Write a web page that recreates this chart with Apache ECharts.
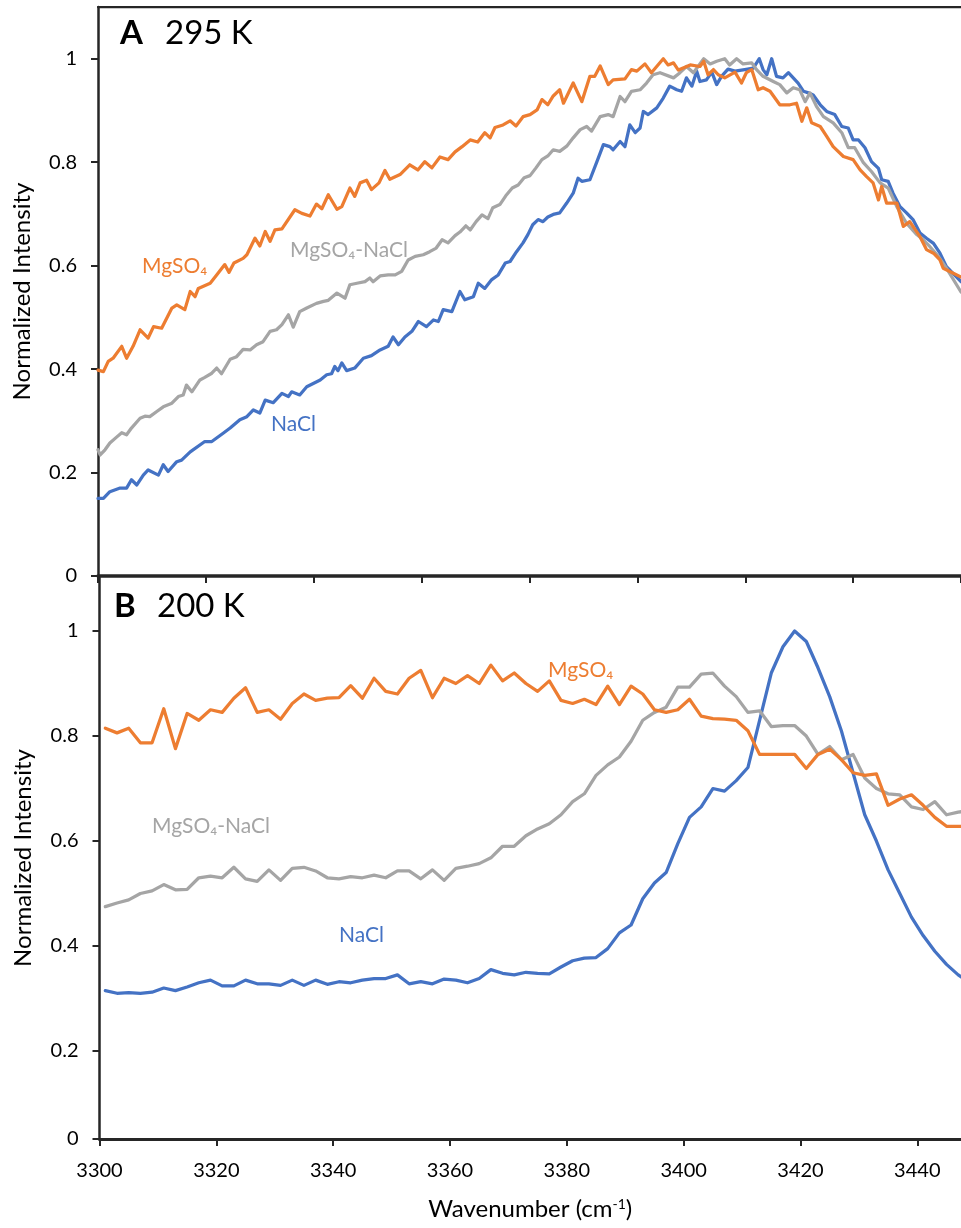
<!DOCTYPE html>
<html>
<head>
<meta charset="utf-8">
<script src="https://cdn.jsdelivr.net/npm/echarts@6/dist/echarts.min.js"></script>
<style>
  html, body { margin: 0; padding: 0; background: #fff; }
  #chart { width: 961px; height: 1228px; }
</style>
</head>
<body>
<div id="chart"></div>
<script>
// Panel A (295 K): wavenumber / normalized intensity pairs for each solution
const topMgSO4X = [3300, 3301.0, 3301.9, 3302.8, 3304.4, 3305.3, 3306.5, 3307.8, 3309.3, 3310.3,
  3311.8, 3313.7, 3314.6, 3316.1, 3317.1, 3318.0, 3318.6, 3320.8, 3322.0, 3323.5,
  3324.3, 3325.2, 3326.9, 3327.6, 3329.1, 3330.0, 3331.0, 3331.9, 3332.8, 3334.1,
  3336.5, 3337.8, 3339.3, 3340.5, 3341.5, 3342.7, 3344.3, 3345.2, 3346.7, 3347.6,
  3348.6, 3349.8, 3350.7, 3352.1, 3353.2, 3354.1,
  3356.0, 3357.8, 3359.3, 3360.6, 3361.9, 3363.4, 3364.9, 3366.2, 3367.5, 3369.0,
  3370.4, 3371.7, 3372.7, 3373.6, 3375.1, 3376.4, 3377.5, 3378.8, 3380.1, 3381.4,
  3382.3, 3383.4, 3384.4,
  3385.6, 3386.3, 3388.1, 3389.7, 3391.2, 3392.1, 3393.1, 3394.6,
  3395.5, 3397.7, 3398.9, 3399.9, 3401.4, 3402.6, 3404.8, 3405.7, 3406.7, 3407.6,
  3409.8, 3411.6, 3412.3, 3413.1, 3414.1, 3415.0, 3416.2, 3418.1, 3419.3, 3420.2,
  3421.2, 3422.4, 3423.3, 3424.6, 3426.4, 3428.3, 3429.5, 3430.5, 3431.4, 3432.3,
  3433.9, 3435.1, 3436.3, 3438.2, 3440.0, 3441.3, 3442.5, 3443.7, 3444.7, 3445.3,
  3446.2, 3448.1, 3449.3, 3450.5, 3452.4, 3453.6, 3454.9, 3456.1, 3456.7, 3460];
const topMgSO4Y = [0.398, 0.395, 0.415, 0.421, 0.444, 0.421, 0.444, 0.476, 0.460, 0.482,
  0.479, 0.518, 0.524, 0.515, 0.550, 0.540, 0.556, 0.566, 0.582, 0.602,
  0.587, 0.605, 0.614, 0.621, 0.653, 0.638, 0.666, 0.647, 0.669, 0.671,
  0.708, 0.701, 0.696, 0.719, 0.710, 0.737, 0.709, 0.714, 0.750, 0.734,
  0.760, 0.765, 0.747, 0.760, 0.784, 0.767,
  0.776, 0.795, 0.785, 0.801, 0.789, 0.810, 0.805, 0.820, 0.830, 0.843,
  0.839, 0.857, 0.847, 0.867, 0.872, 0.880, 0.870, 0.888, 0.892, 0.901,
  0.921, 0.911, 0.928,
  0.940, 0.914, 0.953, 0.917, 0.966, 0.966, 0.986, 0.950,
  0.959, 0.961, 0.979, 0.976, 0.990, 0.973, 1.000, 0.988, 0.992, 0.978,
  0.988, 0.985, 0.995, 0.969, 0.979, 0.969, 0.963, 0.974, 0.953, 0.973,
  0.979, 0.940, 0.944, 0.937, 0.911, 0.911, 0.914, 0.879, 0.905, 0.876,
  0.869, 0.850, 0.830, 0.811, 0.805, 0.785, 0.772, 0.760, 0.727, 0.753,
  0.721, 0.721, 0.676, 0.685, 0.656, 0.631, 0.624, 0.611, 0.595, 0.578];

const topMixX = [3300, 3300.4, 3301.3, 3302.2, 3303.5, 3304.4, 3305.3, 3306.2, 3307.8, 3308.7,
  3309.6, 3310.9, 3312.1, 3313.7, 3314.9, 3315.8, 3316.4, 3317.4, 3318.9, 3319.8,
  3321.1, 3322.0, 3322.9, 3324.5, 3325.7, 3326.9, 3328.2, 3329.4, 3330.6, 3331.9,
  3333.1, 3334.1, 3335.3, 3336.2, 3337.4, 3338.7, 3340.5, 3341.8, 3342.7, 3344.3,
  3345.8, 3346.7, 3348.0, 3349.5, 3350.4, 3351.0, 3352.3, 3353.8, 3355.1, 3356.3,
  3357.5, 3358.8, 3360.3, 3361.5,
  3362.7, 3363.8, 3364.9, 3366.2, 3367.1, 3368.2, 3369.0, 3370.1, 3371.2, 3372.3,
  3373.2, 3374.5, 3375.6, 3376.8, 3377.9, 3379.0, 3380.1, 3381.2, 3382.3, 3383.4,
  3384.4,
  3385.6, 3386.9, 3388.1, 3389.4,
  3390.6, 3391.5, 3393.1, 3394.6, 3395.5, 3396.8, 3397.7, 3398.9, 3400.5, 3401.7,
  3402.9, 3404.2, 3406.7, 3407.9, 3409.1, 3410.4, 3412.3, 3413.5, 3414.7, 3416.2,
  3417.1, 3418.4, 3419.6, 3421.2, 3422.1, 3423.3, 3425.2, 3426.4, 3427.7, 3428.9,
  3430.1, 3431.1, 3432.0, 3433.2, 3434.5, 3436.3, 3437.9, 3439.1, 3440.3, 3441.9,
  3443.4, 3445.0, 3446.5, 3448.1, 3449.9, 3451.8, 3453.0, 3454.2, 3455.8, 3457.3,
  3460];
const topMixY = [0.244, 0.234, 0.244, 0.257, 0.269, 0.277, 0.273, 0.286, 0.305, 0.309,
  0.308, 0.318, 0.327, 0.334, 0.347, 0.350, 0.369, 0.356, 0.379, 0.384,
  0.392, 0.402, 0.391, 0.419, 0.424, 0.438, 0.437, 0.447, 0.453, 0.473,
  0.476, 0.486, 0.505, 0.481, 0.511, 0.518, 0.527, 0.531, 0.533, 0.547,
  0.537, 0.563, 0.566, 0.569, 0.576, 0.569, 0.580, 0.582, 0.582, 0.589,
  0.611, 0.618, 0.621, 0.627,
  0.634, 0.650, 0.644, 0.658, 0.665, 0.677, 0.669, 0.685, 0.698, 0.691,
  0.712, 0.718, 0.735, 0.750, 0.756, 0.770, 0.774, 0.789, 0.805, 0.812,
  0.824,
  0.821, 0.831, 0.847, 0.863,
  0.869, 0.860, 0.888, 0.892, 0.888, 0.927, 0.917, 0.937, 0.940, 0.953,
  0.969, 0.973, 0.963, 0.973, 0.985, 0.973, 1.000, 0.990, 0.995, 1.000,
  0.988, 1.000, 0.990, 0.992, 0.979, 0.966, 0.956, 0.950, 0.934, 0.944,
  0.940, 0.917, 0.934, 0.908, 0.888, 0.876, 0.857, 0.828, 0.828, 0.799,
  0.782, 0.760, 0.750, 0.714, 0.682, 0.660, 0.650, 0.637, 0.618, 0.595,
  0.549];

const topNaClX = [3300, 3301.0, 3302.2, 3304.1, 3305.3, 3306.2, 3307.2, 3308.4, 3309.3, 3311.2,
  3312.1, 3313.0, 3314.6, 3315.5, 3317.1, 3319.8, 3321.1, 3323.2, 3324.5, 3326.3,
  3327.6, 3328.8, 3330.0, 3331.0, 3332.5, 3334.1, 3335.3, 3335.9, 3337.4, 3338.7,
  3341.2, 3342.4, 3343.3, 3343.9, 3344.5, 3345.2, 3346.1, 3347.6, 3349.2, 3350.7,
  3352.3, 3353.8, 3354.7, 3355.7, 3356.9, 3358.2, 3359.4, 3360.9, 3362.2, 3363.1,
  3364.0, 3365.6, 3367.1, 3368.0, 3369.6, 3370.5, 3371.7, 3373.0, 3374.2, 3375.5,
  3376.4, 3377.6,
  3378.8, 3379.7, 3380.6, 3381.6, 3382.5, 3383.4, 3384.4,
  3385.6, 3386.9, 3388.1, 3389.0,
  3389.7, 3391.2, 3392.5, 3393.7, 3394.9, 3395.5, 3396.8, 3397.7, 3398.6, 3399.6,
  3400.5, 3401.1, 3402.0, 3403.6, 3404.8, 3406.0, 3407.3, 3408.2, 3409.1, 3410.1,
  3411.0, 3411.6, 3412.8, 3413.8, 3414.7, 3415.6, 3416.8, 3418.1, 3419.9, 3421.5,
  3422.6, 3423.3, 3424.0, 3424.9, 3425.8, 3427.0, 3428.0, 3428.9, 3429.8, 3430.8,
  3431.7, 3432.6, 3433.9, 3435.1, 3436.6, 3437.9, 3439.1, 3440.0, 3441.0, 3442.2,
  3443.4, 3444.7, 3445.3, 3446.5, 3447.4, 3448.7, 3449.9, 3451.1, 3452.4, 3453.6,
  3454.9, 3456.1, 3457.3, 3460];
const topNaClY = [0.150, 0.150, 0.163, 0.170, 0.170, 0.186, 0.176, 0.195, 0.205, 0.195,
  0.215, 0.202, 0.221, 0.224, 0.240, 0.260, 0.260, 0.276, 0.286, 0.302,
  0.308, 0.321, 0.315, 0.340, 0.335, 0.353, 0.347, 0.356, 0.350, 0.366,
  0.379, 0.389, 0.391, 0.405, 0.397, 0.412, 0.397, 0.402, 0.421, 0.426,
  0.437, 0.444, 0.462, 0.447, 0.462, 0.473, 0.492, 0.482, 0.495, 0.492,
  0.515, 0.511, 0.550, 0.534, 0.540, 0.566, 0.556, 0.573, 0.582, 0.605,
  0.608, 0.627,
  0.644, 0.660, 0.679, 0.689, 0.685, 0.694, 0.699,
  0.702, 0.721, 0.740, 0.769,
  0.763, 0.766, 0.801, 0.834, 0.830, 0.824, 0.840, 0.830, 0.872, 0.857,
  0.866, 0.898, 0.892, 0.905, 0.924, 0.947, 0.940, 0.937, 0.963, 0.947,
  0.976, 0.956, 0.959, 0.974, 0.950, 0.966, 0.980, 0.976, 0.979, 0.982,
  1.000, 0.979, 0.969, 1.000, 0.966, 0.963, 0.973, 0.963, 0.953, 0.937,
  0.934, 0.930, 0.911, 0.898, 0.892, 0.869, 0.866, 0.843, 0.843, 0.828,
  0.801, 0.788, 0.766, 0.763, 0.740, 0.714, 0.702, 0.689, 0.663, 0.653,
  0.643, 0.624, 0.598, 0.569];

// Panel B (200 K): shared wavenumber grid
const bottomWavenumbers = [];
for (let w = 3301; w <= 3449; w += 2) bottomWavenumbers.push(w);

const bottomMgSO4 = [0.815, 0.806, 0.815, 0.787, 0.787, 0.852, 0.776, 0.843, 0.830, 0.850,
  0.845, 0.872, 0.892, 0.845, 0.850, 0.832, 0.862, 0.880, 0.868, 0.872,
  0.873, 0.896, 0.872, 0.910, 0.885, 0.880, 0.910, 0.925, 0.873, 0.910,
  0.900, 0.915, 0.900, 0.935, 0.905, 0.920, 0.900, 0.885, 0.905, 0.868,
  0.862, 0.870, 0.860, 0.895, 0.860, 0.895, 0.880, 0.850, 0.845, 0.850,
  0.870, 0.838, 0.833, 0.832, 0.830, 0.810, 0.765, 0.765, 0.765, 0.765,
  0.738, 0.765, 0.775, 0.755, 0.730, 0.725, 0.728, 0.668, 0.680, 0.688,
  0.668, 0.645, 0.628, 0.628, 0.628];
const bottomMix = [0.475, 0.482, 0.488, 0.500, 0.505, 0.517, 0.507, 0.508, 0.530, 0.533,
  0.530, 0.550, 0.528, 0.523, 0.545, 0.525, 0.548, 0.550, 0.543, 0.530,
  0.528, 0.532, 0.530, 0.535, 0.530, 0.543, 0.543, 0.528, 0.545, 0.525,
  0.548, 0.552, 0.557, 0.568, 0.590, 0.590, 0.610, 0.623, 0.633, 0.650,
  0.675, 0.690, 0.725, 0.745, 0.760, 0.790, 0.830, 0.845, 0.855, 0.893,
  0.893, 0.918, 0.920, 0.895, 0.875, 0.845, 0.848, 0.818, 0.820, 0.820,
  0.800, 0.765, 0.780, 0.755, 0.765, 0.720, 0.700, 0.690, 0.688, 0.665,
  0.660, 0.675, 0.650, 0.655, 0.658];
const bottomNaCl = [0.315, 0.310, 0.311, 0.310, 0.312, 0.320, 0.315, 0.322, 0.330, 0.335,
  0.324, 0.324, 0.335, 0.328, 0.328, 0.325, 0.335, 0.325, 0.335, 0.327,
  0.332, 0.330, 0.335, 0.338, 0.338, 0.345, 0.328, 0.332, 0.328, 0.337,
  0.335, 0.330, 0.338, 0.355, 0.348, 0.345, 0.350, 0.348, 0.347, 0.360,
  0.372, 0.377, 0.378, 0.395, 0.425, 0.440, 0.490, 0.520, 0.540, 0.595,
  0.645, 0.665, 0.700, 0.695, 0.715, 0.740, 0.830, 0.920, 0.970, 1.000,
  0.980, 0.930, 0.875, 0.810, 0.730, 0.650, 0.600, 0.545, 0.500, 0.455,
  0.420, 0.390, 0.365, 0.345, 0.330];

const yTicksTop = [0, 0.2, 0.4, 0.6, 0.8, 1];
const yTicksBottom = [0.0324, 0.2, 0.4, 0.6, 0.8, 1];
const xTicksBottom = [3300, 3320, 3340, 3360, 3380, 3400, 3420, 3440];

const ORANGE = '#ED7D31', GRAY = '#A5A5A5', BLUE = '#4472C4', INK = '#262626';
const FONT = 'Lato, "Open Sans", sans-serif';

const pairs = (xs, ys) => xs.map((x, i) => [x, ys[i]]);
const fmtY = v => (v < 0.05 ? '0' : String(+v.toFixed(1)));

function line(name, data, color, xi, yi) {
  return {
    name, type: 'line', data, xAxisIndex: xi, yAxisIndex: yi,
    showSymbol: false, symbol: 'none', smooth: false, clip: true,
    lineStyle: { color, width: 3.25, cap: 'round', join: 'round' },
    emphasis: { disabled: true }
  };
}

const axisLineStyle = w => ({ show: true, onZero: false, lineStyle: { color: INK, width: w } });
const tickStyle = { show: true, inside: false, length: 7, lineStyle: { color: INK, width: 2 } };

const chart = echarts.init(document.getElementById('chart'), null, { renderer: 'canvas' });
chart.setOption({
  animation: false,
  backgroundColor: '#fff',
  grid: [
    { left: 98, top: 7, width: 863, height: 569 },
    { left: 99.5, top: 577, width: 861.5, height: 562 }
  ],
  xAxis: [
    {
      gridIndex: 0, type: 'value', position: 'bottom', min: 3300, max: 3460, interval: 20,
      axisLine: axisLineStyle(3.5), axisTick: tickStyle,
      axisLabel: { show: false }, splitLine: { show: false }
    },
    {
      gridIndex: 0, type: 'value', position: 'top', min: 3300, max: 3460,
      axisLine: axisLineStyle(2.25), axisTick: { show: false },
      axisLabel: { show: false }, splitLine: { show: false }
    },
    {
      gridIndex: 1, type: 'value', position: 'bottom', min: 3300, max: 3447.48,
      axisLine: axisLineStyle(3),
      axisTick: Object.assign({}, tickStyle, { customValues: xTicksBottom }),
      axisLabel: {
        customValues: xTicksBottom, formatter: v => String(v), margin: 22, color: '#000',
        fontFamily: FONT, fontSize: 20
      },
      splitLine: { show: false },
      name: 'Wavenumber (cm{sup|-1})', nameLocation: 'middle', nameGap: 58,
      nameTextStyle: {
        color: '#000', fontFamily: FONT, fontSize: 24,
        rich: { sup: { fontFamily: FONT, fontSize: 14, verticalAlign: 'top', color: '#000' } }
      }
    }
  ],
  yAxis: [
    {
      gridIndex: 0, type: 'value', min: 0, max: 1.1,
      axisLine: axisLineStyle(2.5),
      axisTick: Object.assign({}, tickStyle, { customValues: yTicksTop }),
      axisLabel: {
        customValues: yTicksTop, formatter: fmtY, margin: 21,
        color: '#000', fontFamily: FONT, fontSize: 20
      },
      splitLine: { show: false },
      name: 'Normalized Intensity', nameLocation: 'middle', nameGap: 64, nameRotate: 90,
      nameTextStyle: { color: '#000', fontFamily: FONT, fontSize: 24 }
    },
    {
      gridIndex: 1, type: 'value', min: 0.0324, max: 1.1029,
      axisLine: axisLineStyle(2.5),
      axisTick: Object.assign({}, tickStyle, { customValues: yTicksBottom }),
      axisLabel: {
        customValues: yTicksBottom, formatter: fmtY, margin: 21,
        color: '#000', fontFamily: FONT, fontSize: 20
      },
      splitLine: { show: false },
      name: 'Normalized Intensity', nameLocation: 'middle', nameGap: 64, nameRotate: 90,
      nameTextStyle: { color: '#000', fontFamily: FONT, fontSize: 24 }
    }
  ],
  series: [
    line('NaCl 295 K', pairs(topNaClX, topNaClY), BLUE, 0, 0),
    line('MgSO4-NaCl 295 K', pairs(topMixX, topMixY), GRAY, 0, 0),
    line('MgSO4 295 K', pairs(topMgSO4X, topMgSO4Y), ORANGE, 0, 0),
    line('NaCl 200 K', pairs(bottomWavenumbers, bottomNaCl), BLUE, 2, 1),
    line('MgSO4-NaCl 200 K', pairs(bottomWavenumbers, bottomMix), GRAY, 2, 1),
    line('MgSO4 200 K', pairs(bottomWavenumbers, bottomMgSO4), ORANGE, 2, 1)
  ],
  graphic: [
    { type: 'text', x: 120, y: 33, style: { text: 'A', fill: '#000', font: 'bold 33px ' + FONT, textVerticalAlign: 'middle', verticalAlign: 'middle' } },
    { type: 'text', x: 165, y: 33, style: { text: '295 K', fill: '#000', font: '33px ' + FONT, textVerticalAlign: 'middle', verticalAlign: 'middle' } },
    { type: 'text', x: 114, y: 606, style: { text: 'B', fill: '#000', font: 'bold 33px ' + FONT, textVerticalAlign: 'middle', verticalAlign: 'middle' } },
    { type: 'text', x: 157, y: 606, style: { text: '200 K', fill: '#000', font: '33px ' + FONT, textVerticalAlign: 'middle', verticalAlign: 'middle' } },

    { type: 'text', x: 142, y: 266, style: { text: 'MgSO₄', fill: ORANGE, font: '21px ' + FONT, textVerticalAlign: 'middle', verticalAlign: 'middle' } },
    { type: 'text', x: 290, y: 250, style: { text: 'MgSO₄-NaCl', fill: GRAY, font: '21px ' + FONT, textVerticalAlign: 'middle', verticalAlign: 'middle' } },
    { type: 'text', x: 271, y: 424, style: { text: 'NaCl', fill: BLUE, font: '21px ' + FONT, textVerticalAlign: 'middle', verticalAlign: 'middle' } },

    { type: 'text', x: 548, y: 670, style: { text: 'MgSO₄', fill: ORANGE, font: '21px ' + FONT, textVerticalAlign: 'middle', verticalAlign: 'middle' } },
    { type: 'text', x: 152, y: 826, style: { text: 'MgSO₄-NaCl', fill: GRAY, font: '21px ' + FONT, textVerticalAlign: 'middle', verticalAlign: 'middle' } },
    { type: 'text', x: 339, y: 935, style: { text: 'NaCl', fill: BLUE, font: '21px ' + FONT, textVerticalAlign: 'middle', verticalAlign: 'middle' } }
  ]
});
</script>
</body>
</html>
